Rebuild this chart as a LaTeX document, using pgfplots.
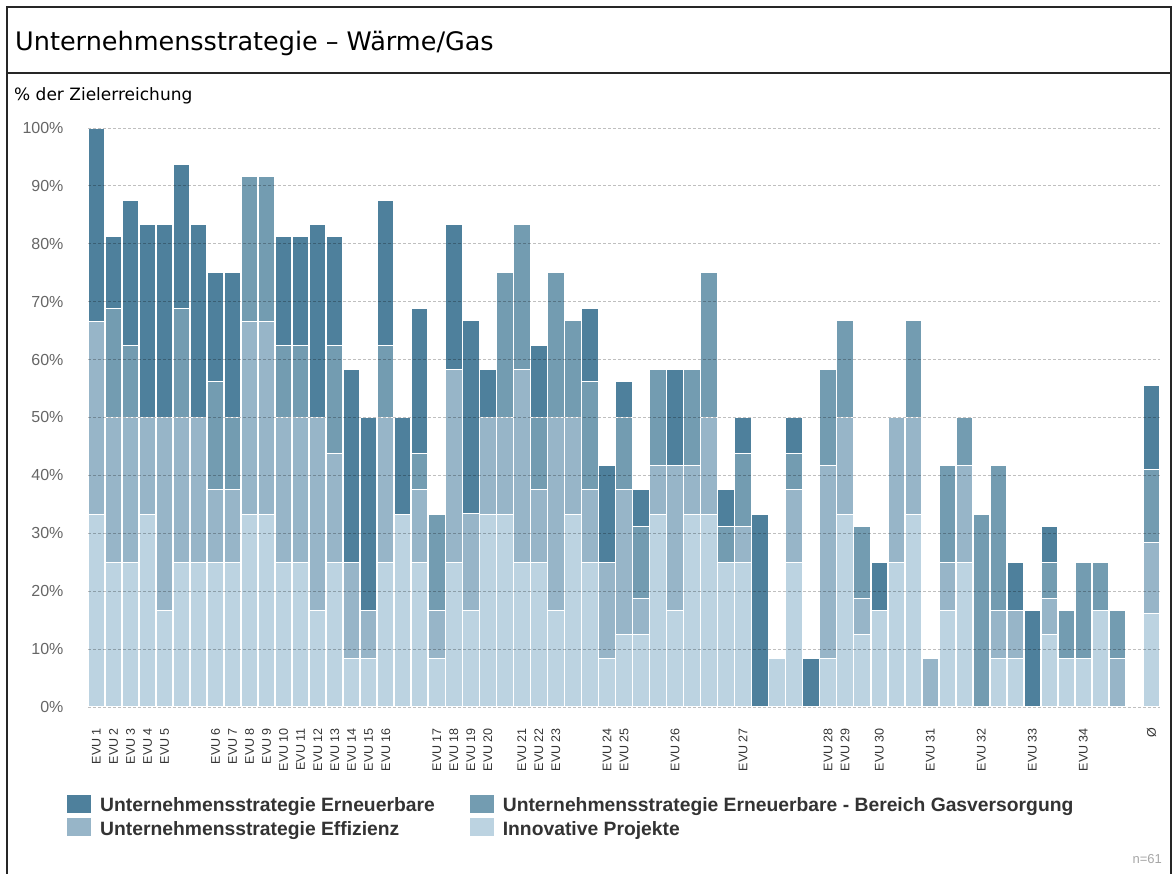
\documentclass[border=0pt]{standalone}
\usepackage{pgfplots}
\pgfplotsset{compat=1.18}
\usepackage{pgfplotstable}
\usepackage{fontspec}
\setmainfont{Liberation Sans}
\newfontfamily\titlefont{DejaVu Sans}
\definecolor{cR}{HTML}{4E809C}
\definecolor{cG}{HTML}{739CB1}
\definecolor{cE}{HTML}{97B5C8}
\definecolor{cL}{HTML}{BCD3E1}
\definecolor{txt}{HTML}{333333}
\definecolor{tick}{HTML}{666666}

\pgfplotstableread{
x L E G R
0 33.33 33.33 0 33.33
1 25 25 18.75 12.5
2 25 25 12.5 25
3 33.33 16.67 0 33.33
4 16.67 33.33 0 33.33
5 25 25 18.75 25
6 25 25 0 33.33
7 25 12.5 18.75 18.75
8 25 12.5 12.5 25
9 33.33 33.33 25 0
10 33.33 33.33 25 0
11 25 25 12.5 18.75
12 25 25 12.5 18.75
13 16.67 33.33 0 33.33
14 25 18.75 18.75 18.75
15 8.33 16.67 0 33.33
16 8.33 8.33 0 33.33
17 25 25 12.5 25
18 33.33 0 0 16.67
19 25 12.5 6.25 25
20 8.33 8.33 16.67 0
21 25 33.33 0 25
22 16.67 16.67 0 33.33
23 33.33 16.67 0 8.33
24 33.33 16.67 25 0
25 25 33.33 25 0
26 25 12.5 12.5 12.5
27 16.67 33.33 25 0
28 33.33 16.67 16.67 0
29 25 12.5 18.75 12.5
30 8.33 16.67 0 16.67
31 12.5 25 12.5 6.25
32 12.5 6.25 12.5 6.25
33 33.33 8.33 16.67 0
34 16.67 25 0 16.67
35 33.33 8.33 16.67 0
36 33.33 16.67 25 0
37 25 0 6.25 6.25
38 25 6.25 12.5 6.25
39 0 0 0 33.33
40 8.33 0 0 0
41 25 12.5 6.25 6.25
42 0 0 0 8.33
43 8.33 33.33 16.67 0
44 33.33 16.67 16.67 0
45 12.5 6.25 12.5 0
46 16.67 0 0 8.33
47 25 25 0 0
48 33.33 16.67 16.67 0
49 0 8.33 0 0
50 16.67 8.33 16.67 0
51 25 16.67 8.33 0
52 0 0 33.33 0
53 8.33 8.33 25 0
54 8.33 8.33 0 8.33
55 0 0 0 16.67
56 12.5 6.25 6.25 6.25
57 8.33 0 8.33 0
58 8.33 0 16.67 0
59 16.67 0 8.33 0
60 0 8.33 8.33 0
62 16.2 12.2 12.6 14.6
}\data

\begin{document}
\begin{tikzpicture}[x=1pt,y=1pt]
\path[use as bounding box] (0,0) rectangle (1172,874);
% frame
\draw[line width=1.5pt, black!85] (7,0) -- (7,867) -- (1171,867) -- (1171,0);
\draw[line width=1.5pt, black!85] (7,801) -- (1171,801);
\node[anchor=base west, inner sep=0, font=\titlefont\fontsize{25.5}{30}\selectfont, text=black] at (15,823) {Unternehmensstrategie – Wärme/Gas};
\node[anchor=base west, inner sep=0, font=\titlefont\fontsize{17}{20}\selectfont, text=black] at (14,773) {\% der Zielerreichung};
\node[anchor=base east, inner sep=0, font=\fontsize{13}{15}\selectfont, text=black!35] at (1162,10) {n=61};

\begin{axis}[
  at={(88pt,167pt)}, anchor=south west,
  width=1072pt, height=579pt, scale only axis,
  xmin=-0.5, xmax=62.5, ymin=0, ymax=100,
  ybar stacked, bar width=16.4pt,
  axis line style={draw=none},
  major tick length=0pt,
  axis on top,
  ymajorgrids,
  grid style={dash pattern=on 3pt off 2pt, black, opacity=0.25, line width=0.8pt},
  ytick={0,10,...,100},
  yticklabel={\pgfmathprintnumber{\tick}\%},
  /pgf/number format/assume math mode=true,
  yticklabel style={font=\fontsize{16}{18}\selectfont, text=tick, xshift=-21pt},
  xtick={0,1,2,3,4,7,8,9,10,11,12,13,14,15,16,17,20,21,22,23,25,26,27,30,31,34,38,43,44,46,49,52,55,58,62},
  xticklabels={EVU 1,EVU 2,EVU 3,EVU 4,EVU 5,EVU 6,EVU 7,EVU 8,EVU 9,EVU 10,EVU 11,EVU 12,EVU 13,EVU 14,EVU 15,EVU 16,EVU 17,EVU 18,EVU 19,EVU 20,EVU 21,EVU 22,EVU 23,EVU 24,EVU 25,EVU 26,EVU 27,EVU 28,EVU 29,EVU 30,EVU 31,EVU 32,EVU 33,EVU 34,Ø},
  xticklabel style={rotate=90, anchor=east, inner sep=0pt, font=\fontsize{12.5}{14}\selectfont, text=txt},
  xticklabel shift=21pt,
  legend columns=2,
  reverse legend,
  legend style={at={(-0.0196,-0.152)}, anchor=north west, draw=none, fill=none,
    font=\bfseries\fontsize{19.3}{21}\selectfont, text=txt,
    /tikz/every odd column/.style={column sep=7pt},
    /tikz/every even column/.style={column sep=33pt},
    row sep=3pt, inner sep=0pt},
  legend image code/.code={\fill[#1, draw=none] (0pt,-7.5pt) rectangle (24pt,10.5pt);},
  legend cell align=left,
]
\addplot[fill=cL, draw=white, line width=1pt] table[x=x,y=L]{\data};
\addplot[fill=cE, draw=white, line width=1pt] table[x=x,y=E]{\data};
\addplot[fill=cG, draw=white, line width=1pt] table[x=x,y=G]{\data};
\addplot[fill=cR, draw=white, line width=1pt] table[x=x,y=R]{\data};
\legend{Innovative Projekte,Unternehmensstrategie Effizienz,Unternehmensstrategie Erneuerbare - Bereich Gasversorgung,Unternehmensstrategie Erneuerbare}
\end{axis}
\end{tikzpicture}
\end{document}
